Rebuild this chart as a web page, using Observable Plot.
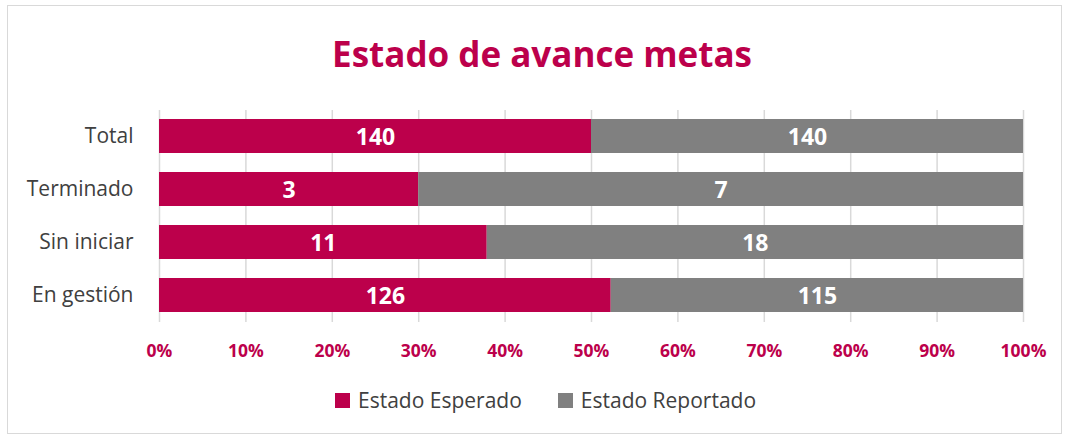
<!DOCTYPE html>
<html>
<head>
<meta charset="utf-8">
<script src="https://cdn.jsdelivr.net/npm/d3@7"></script>
<script src="https://cdn.jsdelivr.net/npm/@observablehq/plot@0.6"></script>
<style>
  html, body { margin: 0; padding: 0; background: #fff; }
  #wrap { position: relative; width: 1065px; height: 437px; font-family: "Open Sans", sans-serif; overflow: hidden; }
  #border { position: absolute; left: 7px; top: 5px; width: 1055px; height: 429px; border: 1.5px solid #d9d9d9; box-sizing: border-box; }
  #title { position: absolute; left: 542px; top: 36px; transform: translateX(-50%); white-space: nowrap;
           font-size: 35px; line-height: 35px; font-weight: bold; color: #BC004B; }
  #chart { position: absolute; left: 0; top: 0; }
  #legend { position: absolute; left: 335px; top: 390px; display: flex; align-items: center; font-size: 21px; line-height: 21px; color: #404040; }
  .sw { width: 15px; height: 15px; margin-right: 8px; }
  .item { display: flex; align-items: center; margin-right: 36px; }
</style>
</head>
<body>
<div id="wrap">
  <div id="border"></div>
  <div id="chart"></div>
  <div id="title">Estado de avance metas</div>
  <div id="legend"></div>
</div>
<script>
const categories = ["Total", "Terminado", "Sin iniciar", "En gestión"];
const series = ["Estado Esperado", "Estado Reportado"];
const esperado = [140, 3, 11, 126];
const reportado = [140, 7, 18, 115];
const xTicks = [0, 10, 20, 30, 40, 50, 60, 70, 80, 90, 100];
const colors = ["#BC004B", "#808080"];

const rows = categories.flatMap((c, i) => [
  {cat: c, series: series[0], value: esperado[i]},
  {cat: c, series: series[1], value: reportado[i]}
]);

const plot = Plot.plot({
  width: 1065,
  height: 380,
  marginTop: 110,
  marginBottom: 58,
  marginLeft: 159,
  marginRight: 42,
  style: {fontFamily: "Open Sans, sans-serif", background: "transparent"},
  x: {domain: [0, 1]},
  y: {domain: categories, paddingInner: 0.35, paddingOuter: 0.17},
  color: {domain: series, range: colors},
  marks: [
    Plot.ruleX(xTicks.map(t => t / 100), {stroke: "#d9d9d9", strokeWidth: 1.5}),
    Plot.barX(rows, Plot.stackX({x: "value", y: "cat", fill: "series", offset: "normalize"})),
    Plot.text(rows, Plot.stackX({x: "value", y: "cat", text: d => String(d.value), offset: "normalize",
      fill: "white", fontWeight: "bold", fontSize: 23, dy: 1})),
    Plot.axisX({ticks: xTicks.map(t => t / 100), tickFormat: d => Math.round(d * 100) + "%", tickSize: 0, tickPadding: 22,
      fill: "#BC004B", fontWeight: "bold", fontSize: 17.5, label: null}),
    Plot.axisY({tickSize: 0, tickPadding: 26, fontSize: 21, fill: "#404040", label: null})
  ]
});
document.getElementById("chart").appendChild(plot);

const legend = document.getElementById("legend");
series.forEach((s, i) => {
  const it = document.createElement("div");
  it.className = "item";
  const sw = document.createElement("div");
  sw.className = "sw";
  sw.style.background = colors[i];
  const t = document.createElement("span");
  t.textContent = s;
  it.appendChild(sw);
  it.appendChild(t);
  legend.appendChild(it);
});
</script>
</body>
</html>
